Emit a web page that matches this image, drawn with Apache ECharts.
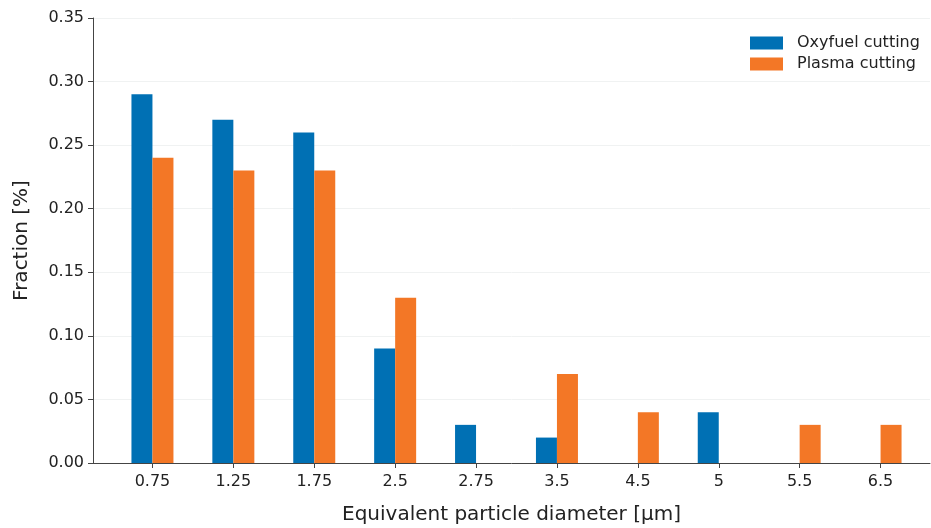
<!DOCTYPE html>
<html><head><meta charset="utf-8">
<script src="https://cdn.jsdelivr.net/npm/echarts@6/dist/echarts.min.js"></script>
<style>html,body{margin:0;padding:0;background:#fff}#c{width:931px;height:528px}</style>
</head><body><div id="c"></div>
<script>
const categories = ['0.75','1.25','1.75','2.5','2.75','3.5','4.5','5','5.5','6.5'];
const oxyfuel = [0.29,0.27,0.26,0.09,0.03,0.02,0,0.04,0,0];
const plasma  = [0.24,0.23,0.23,0.13,0,0.07,0.04,0,0.03,0.03];
const yTicks = {min:0, max:0.35, interval:0.05};

const font = 'DejaVu Sans';
const chart = echarts.init(document.getElementById('c'), null, {renderer:'canvas'});
chart.setOption({
  animation:false,
  textStyle:{fontFamily:font},
  grid:[
    {left:112, right:10, top:18, bottom:65, outerBoundsMode:'none', containLabel:false},
    {left:93, right:1, top:18, bottom:65, outerBoundsMode:'none', containLabel:false}
  ],
  legend:{
    orient:'vertical', left:745, top:30, itemWidth:33, itemHeight:13, itemGap:5,
    icon:'rect',
    textStyle:{fontFamily:font, fontSize:16, color:'#222', padding:[0,0,0,9]},
    data:['Oxyfuel cutting','Plasma cutting']
  },
  xAxis:[
    {type:'category', gridIndex:0, data:categories,
     axisLine:{show:false},
     axisTick:{show:true, alignWithLabel:true, length:5, lineStyle:{color:'#444'}},
     axisLabel:{fontFamily:font, fontSize:16, color:'#222', margin:11}},
    {type:'value', gridIndex:1, min:0, max:1, show:true,
     axisLine:{show:true, lineStyle:{color:'#444', width:1}},
     axisTick:{show:false}, axisLabel:{show:false}, splitLine:{show:false},
     name:'Equivalent particle diameter [μm]', nameLocation:'middle', nameGap:42,
     nameTextStyle:{fontFamily:font, fontSize:20, color:'#222'}}
  ],
  yAxis:[
    {type:'value', gridIndex:0, min:yTicks.min, max:yTicks.max, interval:yTicks.interval, show:false},
    {type:'value', gridIndex:1, min:yTicks.min, max:yTicks.max, interval:yTicks.interval,
     axisLine:{show:true, lineStyle:{color:'#444', width:1}},
     axisTick:{show:true, length:5, lineStyle:{color:'#444'}},
     axisLabel:{fontFamily:font, fontSize:16, color:'#222', margin:9, formatter:v=>v.toFixed(2)},
     splitLine:{show:true, lineStyle:{color:'#f0f2f2', width:1}},
     name:'Fraction [%]', nameLocation:'middle', nameGap:61, nameRotate:90,
     nameTextStyle:{fontFamily:font, fontSize:20, color:'#222'}}
  ],
  series:[
    {name:'Oxyfuel cutting', type:'bar', xAxisIndex:0, yAxisIndex:0, data:oxyfuel,
     barWidth:21, barGap:'0%', itemStyle:{color:'#0070b4'}},
    {name:'Plasma cutting', type:'bar', xAxisIndex:0, yAxisIndex:0, data:plasma,
     barWidth:21, barGap:'0%', itemStyle:{color:'#f37726'}}
  ]
});
</script></body></html>
